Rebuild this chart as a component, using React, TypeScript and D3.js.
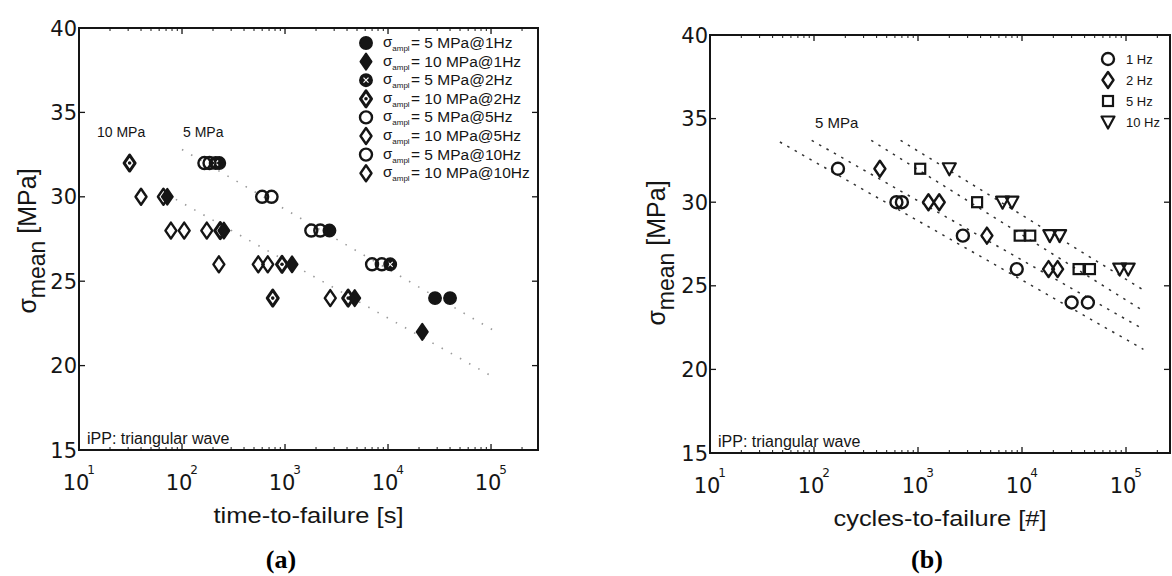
import * as d3 from "d3";

const W = 1172;
const H = 576;

// shared axis ticks
const yTickValues = [15, 20, 25, 30, 35, 40];
const xDecades = [1, 2, 3, 4, 5];

// ---- panel (a): time-to-failure [s] vs sigma_mean, [t, sigma]
const a5MPa1Hz = [[230, 32], [2700, 28], [28600, 24], [40000, 24]];
const a5MPa2Hz = [[212, 32], [10500, 26]];
const a5MPa5Hz = [[185, 32], [600, 30], [1800, 28], [7000, 26]];
const a5MPa10Hz = [[165, 32], [740, 30], [2200, 28], [8700, 26]];
const a10MPa1Hz = [[72, 30], [255, 28], [1170, 26], [4750, 24], [21500, 22]];
const a10MPa2Hz = [[31, 32], [235, 28], [935, 26], [760, 24], [4100, 24]];
const a10MPa5Hz = [[40, 30], [105, 28], [550, 26], [2750, 24]];
const a10MPa10Hz = [[66, 30], [78, 28], [174, 28], [228, 26], [680, 26]];
const aLegend = ["= 5 MPa@1Hz", "= 10 MPa@1Hz", "= 5 MPa@2Hz", "= 10 MPa@2Hz",
  "= 5 MPa@5Hz", "= 10 MPa@5Hz", "= 5 MPa@10Hz", "= 10 MPa@10Hz"];
const aSymbols = ["circleFilled", "diamondFilled", "circleCross", "diamondDot",
  "circle", "diamond", "circle", "diamond"];
const aSeries = [a5MPa1Hz, a10MPa1Hz, a5MPa2Hz, a10MPa2Hz, a5MPa5Hz, a10MPa5Hz, a5MPa10Hz, a10MPa10Hz];
// faint dotted trend lines (5 MPa, 10 MPa)
const aTrend5 = [[100, 32.8], [112000, 22.0]];
const aTrend10 = [[71, 30.15], [100000, 19.4]];

// ---- panel (b): cycles-to-failure [#], 5 MPa only
const b1Hz = [[170, 32], [620, 30], [700, 30], [2700, 28], [8900, 26], [30000, 24], [43000, 24]];
const b2Hz = [[430, 32], [1260, 30], [1600, 30], [4600, 28], [18000, 26], [22000, 26]];
const b5Hz = [[1050, 32], [3700, 30], [9500, 28], [12000, 28], [35000, 26], [45000, 26]];
const b10Hz = [[2000, 32], [6500, 30], [8000, 30], [18500, 28], [23000, 28], [87000, 26], [105000, 26]];
const bLegend = ["1 Hz", "2 Hz", "5 Hz", "10 Hz"];
const bSymbols = ["circle", "diamond", "square", "triangle"];
const bSeries = [b1Hz, b2Hz, b5Hz, b10Hz];
const bTrends = [
  [[47, 33.6], [147000, 21.2]],
  [[95, 33.7], [147000, 22.4]],
  [[355, 33.7], [147000, 23.5]],
  [[680, 33.7], [147000, 24.75]],
];

const INK = "#151515";

function Marker({ type, x, y }: { type: string; x: number; y: number }) {
  const dw = 5.5, dh = 8;
  const diamond = `M${x},${y - dh}L${x + dw},${y}L${x},${y + dh}L${x - dw},${y}Z`;
  switch (type) {
    case "circleFilled":
      return <circle cx={x} cy={y} r={6.2} fill={INK} stroke={INK} strokeWidth={1.5} />;
    case "circleCross":
      return (
        <g>
          <circle cx={x} cy={y} r={6.2} fill={INK} stroke={INK} strokeWidth={1.5} />
          <path d={`M${x - 2.5},${y - 2.5}L${x + 2.5},${y + 2.5}M${x - 2.5},${y + 2.5}L${x + 2.5},${y - 2.5}`} stroke="#fff" strokeWidth={1.2} />
        </g>
      );
    case "circle":
      return <circle cx={x} cy={y} r={6} fill="none" stroke={INK} strokeWidth={2.4} />;
    case "diamondFilled":
      return <path d={diamond} fill={INK} stroke={INK} strokeWidth={2} strokeLinejoin="round" />;
    case "diamondDot":
      return (
        <g>
          <path d={diamond} fill="none" stroke={INK} strokeWidth={3} strokeLinejoin="round" />
          <circle cx={x} cy={y} r={1.8} fill={INK} />
        </g>
      );
    case "diamond":
      return <path d={diamond} fill="none" stroke={INK} strokeWidth={2.4} strokeLinejoin="round" />;
    case "square":
      return <rect x={x - 5} y={y - 5} width={10} height={10} fill="none" stroke={INK} strokeWidth={2.2} />;
    case "triangle":
      return <path d={`M${x - 6.5},${y - 5.5}L${x + 6.5},${y - 5.5}L${x},${y + 6.5}Z`} fill="none" stroke={INK} strokeWidth={2.2} strokeLinejoin="round" />;
    default:
      return null;
  }
}

type PanelProps = {
  x0: number; x1: number; y0: number; y1: number;
  xMaxExp: number;
  xLabel: string; xLabelLen: number;
  yLabelX: number; yLabelY: number;
  tag: string; tagX: number;
  children: (x: any, y: any) => any;
};

function Panel(p: PanelProps) {
  const x = d3.scaleLog().domain([10, Math.pow(10, p.xMaxExp)]).range([p.x0, p.x1]);
  const y = d3.scaleLinear().domain([15, 40]).range([p.y1, p.y0]);
  const minor: number[] = [];
  xDecades.forEach((e) => {
    for (let m = 2; m <= 9; m++) {
      const v = m * Math.pow(10, e);
      if (v < Math.pow(10, p.xMaxExp)) minor.push(v);
    }
  });
  const cx = (p.x0 + p.x1) / 2;
  return (
    <g>
      {/* box */}
      <rect x={p.x0} y={p.y0} width={p.x1 - p.x0} height={p.y1 - p.y0} fill="none" stroke={INK} strokeWidth={2} />
      {/* x ticks */}
      {xDecades.map((e) => (
        <g key={e}>
          <line x1={x(Math.pow(10, e))} x2={x(Math.pow(10, e))} y1={p.y1} y2={p.y1 - 6} stroke={INK} strokeWidth={1.3} />
          <line x1={x(Math.pow(10, e))} x2={x(Math.pow(10, e))} y1={p.y0} y2={p.y0 + 6} stroke={INK} strokeWidth={1.3} />
          <text x={x(Math.pow(10, e)) - 3} y={p.y1 + 40} textAnchor="middle" fontFamily="DejaVu Sans" fontSize={21} fill={INK}>10</text>
          <text x={x(Math.pow(10, e)) + 12} y={p.y1 + 24} textAnchor="middle" fontFamily="DejaVu Sans" fontSize={12} fill={INK}>{e}</text>
        </g>
      ))}
      {minor.map((v, i) => (
        <g key={i}>
          <line x1={x(v)} x2={x(v)} y1={p.y1} y2={p.y1 - 3} stroke={INK} strokeWidth={1} />
          <line x1={x(v)} x2={x(v)} y1={p.y0} y2={p.y0 + 3} stroke={INK} strokeWidth={1} />
        </g>
      ))}
      {/* y ticks */}
      {yTickValues.map((v) => (
        <g key={v}>
          <line x1={p.x0} x2={p.x0 + 6} y1={y(v)} y2={y(v)} stroke={INK} strokeWidth={1.3} />
          <line x1={p.x1} x2={p.x1 - 6} y1={y(v)} y2={y(v)} stroke={INK} strokeWidth={1.3} />
          <text x={p.x0 - 2} y={y(v) + 7.5} textAnchor="end" fontFamily="DejaVu Sans" fontSize={21} fill={INK}>{v}</text>
        </g>
      ))}
      {/* axis labels */}
      <text x={cx} y={p.y1 + 73} textAnchor="middle" fontFamily="Liberation Sans, Arial" fontSize={22}
        textLength={p.xLabelLen} lengthAdjust="spacingAndGlyphs" fill={INK}>{p.xLabel}</text>
      <text transform={`translate(${p.yLabelX},${p.yLabelY}) rotate(-90)`} textAnchor="middle"
        fontFamily="Liberation Sans, Arial" fontSize={25} fill={INK}>
        σ<tspan fontSize={23} dy={9}>mean</tspan><tspan dy={-9}> [MPa]</tspan>
      </text>
      <text x={p.tagX} y={568} textAnchor="middle" fontFamily="Liberation Serif, Times New Roman" fontWeight="bold" fontSize={26} fill="#000">{p.tag}</text>
      <text x={p.x0 + 8} y={p.y1 - 6} fontFamily="Liberation Sans, Arial" fontSize={16} fill={INK}>iPP: triangular wave</text>
      {p.children(x, y)}
    </g>
  );
}

export default function App() {
  const trendLine = (xs: any, ys: any) => d3.line<number[]>().x((d) => xs(d[0])).y((d) => ys(d[1]));
  return (
    <svg width={W} height={H} viewBox={`0 0 ${W} ${H}`}
      style={{ position: "absolute", left: 0, top: 0, background: "#fff" }}>
      <rect width={W} height={H} fill="#fff" />
      <Panel x0={79} x1={538} y0={28} y1={450} xMaxExp={5.456}
        xLabel="time-to-failure [s]" xLabelLen={190}
        yLabelX={36} yLabelY={241} tag="(a)" tagX={281}>
        {(x: any, y: any) => {
          const ln = trendLine(x, y);
          return (
            <g>
              <path d={ln(aTrend5) ?? ""} fill="none" stroke="#9a9a9a" strokeWidth={1.6} strokeDasharray="1.5,9" />
              <path d={ln(aTrend10) ?? ""} fill="none" stroke="#9a9a9a" strokeWidth={1.6} strokeDasharray="1.5,9" />
              <text x={97} y={137} fontFamily="Liberation Sans, Arial" fontSize={14} fill={INK}>10 MPa</text>
              <text x={183} y={137} fontFamily="Liberation Sans, Arial" fontSize={14} fill={INK}>5 MPa</text>
              {aSeries.map((s, i) => s.map((d, j) => (
                <Marker key={`${i}-${j}`} type={aSymbols[i]} x={x(d[0])} y={y(d[1])} />
              )))}
              {aLegend.map((t, i) => {
                const ry = 43 + i * 18.6;
                return (
                  <g key={t}>
                    <Marker type={aSymbols[i]} x={366} y={ry} />
                    <text x={383} y={ry + 4} fontFamily="Liberation Sans, Arial" fontSize={15} fill={INK}>
                      σ<tspan fontSize={8} dy={4}>ampl</tspan>
                    </text>
                    <text x={411} y={ry + 5} fontFamily="Liberation Sans, Arial" fontSize={15.5} fill={INK}>{t}</text>
                  </g>
                );
              })}
            </g>
          );
        }}
      </Panel>
      <Panel x0={710} x1={1170} y0={35} y1={453} xMaxExp={5.423}
        xLabel="cycles-to-failure [#]" xLabelLen={213}
        yLabelX={665} yLabelY={253} tag="(b)" tagX={927}>
        {(x: any, y: any) => {
          const ln = trendLine(x, y);
          return (
            <g>
              {bTrends.map((t, i) => (
                <path key={i} d={ln(t) ?? ""} fill="none" stroke="#333" strokeWidth={1.5} strokeDasharray="2.5,6" />
              ))}
              <text x={815} y={128} fontFamily="Liberation Sans, Arial" fontSize={15} fill={INK}>5 MPa</text>
              {bSeries.map((s, i) => s.map((d, j) => (
                <Marker key={`${i}-${j}`} type={bSymbols[i]} x={x(d[0])} y={y(d[1])} />
              )))}
              {bLegend.map((t, i) => {
                const ry = 59 + i * 21;
                return (
                  <g key={t}>
                    <Marker type={bSymbols[i]} x={1108} y={ry} />
                    <text x={1126} y={ry + 5} fontFamily="Liberation Sans Narrow, Liberation Sans, Arial" fontSize={13} fill={INK}>{t}</text>
                  </g>
                );
              })}
            </g>
          );
        }}
      </Panel>
    </svg>
  );
}
